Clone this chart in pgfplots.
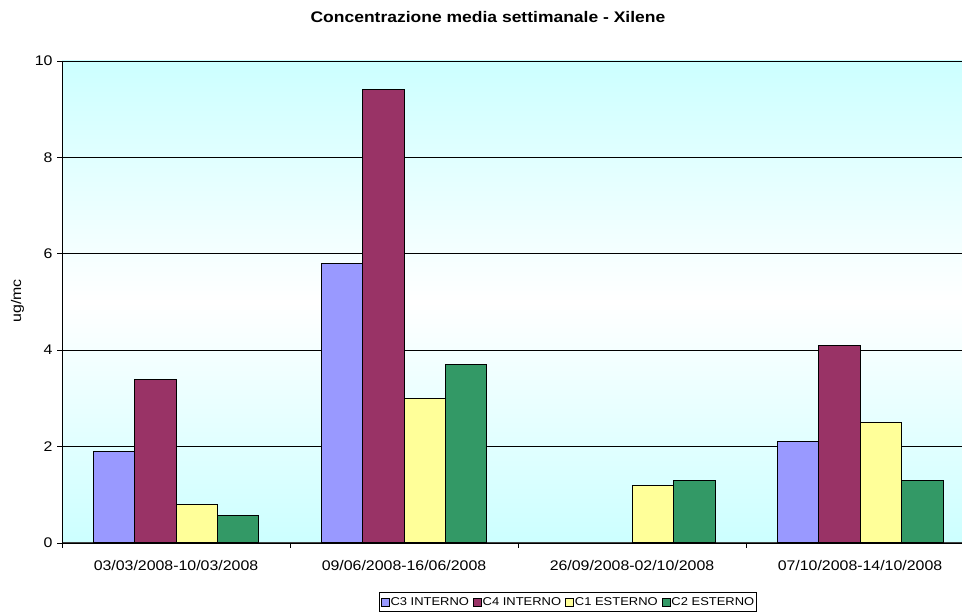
\documentclass[border=0pt]{standalone}
\usepackage{fontspec}
\setmainfont{Liberation Sans}[FakeStretch=1.14]
\usepackage{pgfplots}
\pgfplotsset{compat=1.18}

\definecolor{bgcyan}{HTML}{CCFFFF}
\definecolor{cthree}{HTML}{9999FF}
\definecolor{cfour}{HTML}{993366}
\definecolor{cone}{HTML}{FFFF99}
\definecolor{ctwo}{HTML}{339966}

\begin{document}
\begin{tikzpicture}[x=1bp,y=1bp]
\path[use as bounding box] (0,0) rectangle (962,613);
\begin{axis}[
  at={(62bp,70bp)}, anchor=south west,
  scale only axis, width=900bp, height=482bp,
  xmin=-0.5, xmax=3.4474, ymin=0, ymax=10,
  enlargelimits=false,
  axis lines=left,
  axis line style={-},
  x axis line style={black!75, line width=1bp},
  y axis line style={black, line width=1bp},
  axis background/.style={top color=bgcyan, bottom color=bgcyan, middle color=white},
  ymajorgrids,
  grid style={black, line width=0.8bp},
  ybar=0pt, bar width=0.182,
  tick align=outside,
  major tick length=5bp, minor tick length=5bp,
  ytick={0,2,4,6,8,10},
  ytick style={black, line width=0.8bp},
  xtick={0,1,2,3},
  xticklabels={03/03/2008-10/03/2008,09/06/2008-16/06/2008,26/09/2008-02/10/2008,07/10/2008-14/10/2008},
  major x tick style={draw=none},
  minor xtick={-0.5,0.5,1.5,2.5},
  minor x tick style={black, line width=0.8bp},
  /pgf/number format/assume math mode=true,
  ticklabel style={font=\fontsize{14}{16}\selectfont},
  yticklabel style={xshift=-1bp},
  xticklabel style={anchor=base, yshift=-23bp},
  title={Concentrazione media settimanale - Xilene},
  title style={at={(axis description cs:0.4733,1.0678)}, anchor=base, font=\bfseries\fontsize{15.4}{18}\selectfont},
  ylabel={ug/mc},
  ylabel style={at={(axis description cs:-0.0494,0.502)}, anchor=center, font=\fontsize{14}{16}\selectfont},
  legend columns=4,
  legend style={at={(axis description cs:0.5622,-0.1224)}, anchor=center, draw=black, line width=0.8bp,
    font=\fontsize{11.4}{13}\selectfont, inner xsep=1bp, inner ysep=1.5bp,
    nodes={inner xsep=1bp, inner ysep=3bp},
    /tikz/every even column/.append style={column sep=3bp}},
  legend image code/.code={\draw[#1, line width=0.8bp] (0bp,-4bp) rectangle (8bp,4bp);},
]
\addplot[fill=cthree, draw=black, line width=1bp] coordinates {(0,1.9) (1,5.8) (3,2.1)};
\addplot[fill=cfour, draw=black, line width=1bp] coordinates {(0,3.4) (1,9.4) (3,4.1)};
\addplot[fill=cone, draw=black, line width=1bp] coordinates {(0,0.8) (1,3.0) (2,1.2) (3,2.5)};
\addplot[fill=ctwo, draw=black, line width=1bp] coordinates {(0,0.57) (1,3.7) (2,1.3) (3,1.3)};
\legend{C3 INTERNO, C4 INTERNO, C1 ESTERNO, C2 ESTERNO}
\end{axis}
\end{tikzpicture}
\end{document}
